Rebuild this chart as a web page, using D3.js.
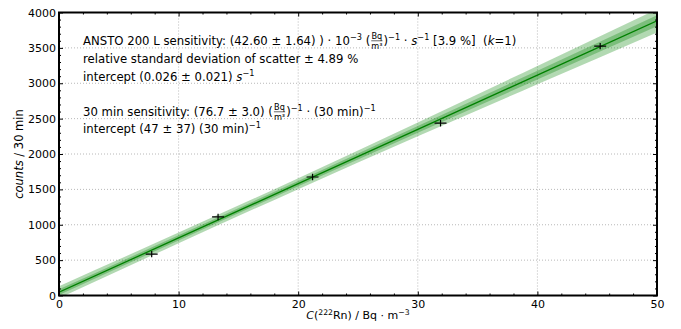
<!DOCTYPE html>
<html>
<head>
<meta charset="utf-8">
<script src="https://cdn.jsdelivr.net/npm/d3@7"></script>
<style>
  body { margin: 0; padding: 0; background: #fff; }
  text { font-family: "DejaVu Sans", sans-serif; white-space: pre; }
</style>
</head>
<body>
<div id="main"></div>
<script>
// measured points (concentration, counts per 30 min)
const concValues = [7.75, 13.3, 21.2, 31.9, 45.25];
const countValues = [585, 1110, 1675, 2435, 3525];
const concErr = [0.5, 0.5, 0.5, 0.5, 0.5];
const countErr = [45, 45, 45, 45, 45];

// fitted line and its uncertainty bands
const fitX = [0, 10, 20, 30, 40, 50];
const fitY = [47, 814, 1581, 2348, 3115, 3882];
const innerHalf = [40, 36, 38, 48, 62, 78];
const outerHalf = [85, 75, 78, 98, 130, 165];

const xTicks = [0, 10, 20, 30, 40, 50];
const yTicks = [0, 500, 1000, 1500, 2000, 2500, 3000, 3500, 4000];

const WIDTH = 681, HEIGHT = 329;
const LEFT = 59, RIGHT = 657, TOP = 12.5, BOTTOM = 295.5;

const svg = d3.select('#main').append('svg')
    .attr('width', WIDTH)
    .attr('height', HEIGHT);

const scaleX = d3.scaleLinear().domain([0, 50]).range([LEFT, RIGHT]);
const scaleY = d3.scaleLinear().domain([0, 4000]).range([BOTTOM, TOP]);

// grid
svg.append('g').selectAll('line').data(xTicks.slice(1, -1)).enter().append('line')
    .attr('x1', d => scaleX(d)).attr('x2', d => scaleX(d))
    .attr('y1', TOP).attr('y2', BOTTOM)
    .attr('stroke', '#b8b8b8').attr('stroke-width', 1).attr('stroke-dasharray', '1,2');
svg.append('g').selectAll('line').data(yTicks.slice(1, -1)).enter().append('line')
    .attr('x1', LEFT).attr('x2', RIGHT)
    .attr('y1', d => scaleY(d)).attr('y2', d => scaleY(d))
    .attr('stroke', '#b8b8b8').attr('stroke-width', 1).attr('stroke-dasharray', '1,2');

// bands
const fitData = fitX.map((x, i) => ({x, y: fitY[i], inner: innerHalf[i], outer: outerHalf[i]}));
svg.append('clipPath').attr('id', 'plotclip').append('rect')
    .attr('x', LEFT).attr('y', TOP).attr('width', RIGHT - LEFT).attr('height', BOTTOM - TOP);
const plot = svg.append('g').attr('clip-path', 'url(#plotclip)');
const curve = d3.curveMonotoneX;
plot.append('path').datum(fitData)
    .attr('d', d3.area().curve(curve).x(d => scaleX(d.x)).y0(d => scaleY(d.y - d.outer)).y1(d => scaleY(d.y + d.outer)))
    .attr('fill', 'green').attr('fill-opacity', 0.3);
plot.append('path').datum(fitData)
    .attr('d', d3.area().curve(curve).x(d => scaleX(d.x)).y0(d => scaleY(d.y - d.inner)).y1(d => scaleY(d.y + d.inner)))
    .attr('fill', 'green').attr('fill-opacity', 0.3);
plot.append('path').datum(fitData)
    .attr('d', d3.line().x(d => scaleX(d.x)).y(d => scaleY(d.y)))
    .attr('fill', 'none').attr('stroke', 'green').attr('stroke-width', 1.3);

// data crosses
const pts = concValues.map((x, i) => ({x, y: countValues[i], ex: concErr[i], ey: countErr[i]}));
const crosses = plot.append('g').selectAll('g').data(pts).enter().append('g');
crosses.append('line')
    .attr('x1', d => scaleX(d.x - d.ex)).attr('x2', d => scaleX(d.x + d.ex))
    .attr('y1', d => scaleY(d.y)).attr('y2', d => scaleY(d.y))
    .attr('stroke', '#000').attr('stroke-width', 1.2);
crosses.append('line')
    .attr('x1', d => scaleX(d.x)).attr('x2', d => scaleX(d.x))
    .attr('y1', d => scaleY(d.y - d.ey)).attr('y2', d => scaleY(d.y + d.ey))
    .attr('stroke', '#000').attr('stroke-width', 1.2);

// axes with inward ticks
const fontSize = 11;
const axisB = d3.axisBottom(scaleX).tickValues(xTicks).tickSizeInner(-4).tickSizeOuter(0).tickPadding(6);
const axisT = d3.axisTop(scaleX).tickValues(xTicks).tickSizeInner(-4).tickSizeOuter(0).tickFormat('');
const axisL = d3.axisLeft(scaleY).tickValues(yTicks).tickSizeInner(-4).tickSizeOuter(0).tickPadding(6)
    .tickFormat(d3.format('d'));
const axisR = d3.axisRight(scaleY).tickValues(yTicks).tickSizeInner(-4).tickSizeOuter(0).tickFormat('');
const minorX = d3.range(0, 50.01, 2).filter(v => v % 10 !== 0);
const minorY = d3.range(0, 4000.1, 100).filter(v => v % 500 !== 0);

const gB = svg.append('g').attr('transform', `translate(0,${BOTTOM})`).call(axisB);
svg.append('g').attr('transform', `translate(0,${TOP})`).call(axisT);
const gL = svg.append('g').attr('transform', `translate(${LEFT},0)`).call(axisL);
svg.append('g').attr('transform', `translate(${RIGHT},0)`).call(axisR);
svg.append('g').attr('transform', `translate(0,${BOTTOM})`)
    .call(d3.axisBottom(scaleX).tickValues(minorX).tickSizeInner(-2).tickSizeOuter(0).tickFormat(''));
svg.append('g').attr('transform', `translate(0,${TOP})`)
    .call(d3.axisTop(scaleX).tickValues(minorX).tickSizeInner(-2).tickSizeOuter(0).tickFormat(''));
svg.append('g').attr('transform', `translate(${LEFT},0)`)
    .call(d3.axisLeft(scaleY).tickValues(minorY).tickSizeInner(-2).tickSizeOuter(0).tickFormat(''));
svg.append('g').attr('transform', `translate(${RIGHT},0)`)
    .call(d3.axisRight(scaleY).tickValues(minorY).tickSizeInner(-2).tickSizeOuter(0).tickFormat(''));
svg.selectAll('.domain').remove();
svg.selectAll('.tick line').attr('stroke', '#000').attr('stroke-width', 1);
svg.selectAll('.tick text')
    .style('font-family', '"DejaVu Sans", sans-serif')
    .style('font-size', `${fontSize}px`)
    .attr('fill', '#000');
gB.selectAll('.tick text').attr('dy', '0.55em');
gL.selectAll('.tick text').attr('x', -3);

// frame
svg.append('rect')
    .attr('x', LEFT).attr('y', TOP).attr('width', RIGHT - LEFT).attr('height', BOTTOM - TOP)
    .attr('fill', 'none').attr('stroke', '#000').attr('stroke-width', 2);

// rich text helper
const richText = (parent, x, y, parts, size) => {
    let cx = x;
    parts.forEach(p => {
        if (p.frac) {
            const fs = size * 0.7;
            const g = parent.append('g');
            const num = g.append('text').attr('y', y - size * 0.48).style('font-size', `${fs}px`).text(p.frac[0]);
            const den = g.append('text').attr('y', y + size * 0.3).style('font-size', `${fs}px`).text(p.frac[1]);
            const w = Math.max(num.node().getComputedTextLength(), den.node().getComputedTextLength());
            num.attr('x', cx + 1 + (w - num.node().getComputedTextLength()) / 2);
            den.attr('x', cx + 1 + (w - den.node().getComputedTextLength()) / 2);
            g.append('line').attr('x1', cx + 1).attr('x2', cx + 1 + w)
                .attr('y1', y - size * 0.36).attr('y2', y - size * 0.36)
                .attr('stroke', '#000').attr('stroke-width', 0.6);
            cx += w + 2;
        } else {
            const t = parent.append('text')
                .attr('x', cx)
                .attr('y', p.sup ? y - size * 0.4 : y)
                .style('font-size', `${p.sup ? size * 0.7 : size}px`)
                .style('font-style', p.it ? 'italic' : 'normal')
                .text(p.t);
            cx += t.node().getComputedTextLength();
        }
    });
};

const notes = svg.append('g').attr('fill', '#000');
const TS = 11.7;
const TX = 83;
richText(notes, TX, 45, [
    {t: 'ANSTO 200 L sensitivity: (42.60 ± 1.64) ) · 10'}, {t: '−3', sup: true}, {t: ' ('},
    {frac: ['Bq', 'm³']}, {t: ')'}, {t: '−1', sup: true}, {t: ' · '}, {t: 's', it: true},
    {t: '−1', sup: true}, {t: ' [3.9 %]  ('}, {t: 'k', it: true}, {t: '=1)'}
], TS);
richText(notes, TX, 63, [{t: 'relative standard deviation of scatter ± 4.89 %'}], TS);
richText(notes, TX, 81, [{t: 'intercept (0.026 ± 0.021) '}, {t: 's', it: true}, {t: '−1', sup: true}], TS);
richText(notes, TX, 116, [
    {t: '30 min sensitivity: (76.7 ± 3.0) ('}, {frac: ['Bq', 'm³']}, {t: ')'}, {t: '−1', sup: true},
    {t: ' · (30 min)'}, {t: '−1', sup: true}
], TS);
richText(notes, TX, 133, [{t: 'intercept (47 ± 37) (30 min)'}, {t: '−1', sup: true}], TS);

// axis labels
const xl = svg.append('g');
const xParts = [{t: 'C', it: true}, {t: '('}, {t: '222', sup: true}, {t: 'Rn) / Bq · m'}, {t: '−3', sup: true}];
richText(xl, 0, 319, xParts, 11);
const xw = xl.node().getBBox().width;
xl.attr('transform', `translate(${(LEFT + RIGHT) / 2 - xw / 2},0)`);

const yl = svg.append('g').attr('transform', `translate(23,${(TOP + BOTTOM) / 2}) rotate(-90)`);
richText(yl, 0, 0, [{t: 'counts', it: true}, {t: ' / 30 min'}], 11.5);
const yw = yl.node().getBBox().width;
yl.attr('transform', `translate(23,${(TOP + BOTTOM) / 2 + yw / 2}) rotate(-90)`);
</script>
</body>
</html>
